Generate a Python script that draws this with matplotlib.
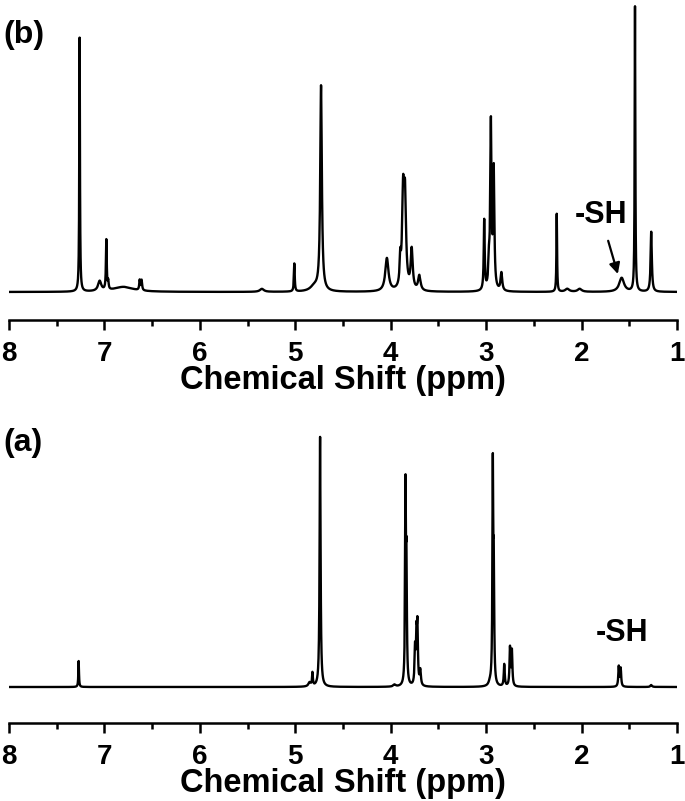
import numpy as np
import matplotlib
matplotlib.use("Agg")
import matplotlib.pyplot as plt

plt.rcParams['font.family'] = ['Liberation Sans', 'DejaVu Sans']
plt.rcParams['font.weight'] = 'bold'

# peak lists: shift (ppm), height (a.u.), width (ppm)
b_shift = [7.26, 7.05, 6.98, 6.96, 6.80, 6.63, 6.61, 5.35, 5.01, 4.80, 4.73,
           4.04, 3.90, 3.87, 3.85, 3.78, 3.70, 3.02, 2.97, 2.95, 2.92, 2.84,
           2.26, 2.15, 2.02, 1.58, 1.44, 1.27]
b_height = [254, 10, 50, 8, 5, 10, 10, 3, 28, 5, 205,
            33, 25, 90, 85, 40, 15, 70, 25, 165, 118, 18,
            78, 3, 3, 14, 285, 60]
b_width = [0.008, 0.04, 0.010, 0.010, 0.25, 0.012, 0.012, 0.05, 0.010, 0.10, 0.020,
           0.040, 0.015, 0.025, 0.025, 0.025, 0.030, 0.012, 0.015, 0.015, 0.015, 0.020,
           0.008, 0.05, 0.05, 0.06, 0.008, 0.015]

a_shift = [7.27, 4.85, 4.82, 4.74, 3.96, 3.845, 3.835, 3.745, 3.73, 3.72, 3.69,
           2.96, 2.93, 2.92, 2.81, 2.75, 2.73, 1.61, 1.59, 1.27]
a_height = [26, 4, 13, 250, 2, 190, 110, 35, 45, 55, 15,
            3, 212, 105, 22, 38, 35, 20, 18, 2]
a_width = [0.008, 0.03, 0.010, 0.012, 0.03, 0.010, 0.010, 0.012, 0.012, 0.012, 0.015,
           0.03, 0.010, 0.010, 0.012, 0.012, 0.012, 0.012, 0.012, 0.02]

ticks = [8, 7, 6, 5, 4, 3, 2, 1]


def spectrum(ppm, shift, height, width):
    y = np.zeros_like(ppm)
    for s, h, w in zip(shift, height, width):
        y += h / (1 + ((ppm - s) / (w / 2)) ** 2)
    return y


def style_axis(ax):
    ax.set_xlim(8, 1)
    for side in ['top', 'left', 'right']:
        ax.spines[side].set_visible(False)
    ax.spines['bottom'].set_linewidth(1.8)
    ax.set_yticks([])
    ax.set_xticks(ticks)
    ax.set_xticks(np.arange(1.5, 8, 1.0), minor=True)
    ax.tick_params(axis='x', which='major', direction='out', length=7, width=1.8,
                   labelsize=20, pad=8)
    ax.tick_params(axis='x', which='minor', direction='out', length=4, width=1.8)
    ax.set_xticklabels([str(t) for t in ticks], fontweight='bold')
    ax.set_xlabel('Chemical Shift (ppm)', fontsize=23.5, fontweight='bold', labelpad=-1)
    ax.patch.set_visible(False)


ppm = np.linspace(1, 8, 20000)

fig = plt.figure(figsize=(6.85, 8.01), dpi=100)
ax_b = fig.add_axes([9 / 685, 1 - 320 / 801, 668 / 685, 320 / 801])
ax_a = fig.add_axes([9 / 685, 1 - 723 / 801, 668 / 685, 323 / 801])

ax_b.plot(ppm, spectrum(ppm, b_shift, b_height, b_width), color='black', lw=1.7)
ax_a.plot(ppm, spectrum(ppm, a_shift, a_height, a_width), color='black', lw=1.7)

ax_b.set_ylim(-28, 292)
ax_a.set_ylim(-36, 287)
style_axis(ax_b)
style_axis(ax_a)

ax_b.annotate('-SH', xy=(1.62, 18), xytext=(1.80, 77), ha='center', va='center',
              fontsize=22, fontweight='bold',
              arrowprops=dict(arrowstyle='-|>', color='black', lw=1.6,
                              shrinkA=6, shrinkB=0, mutation_scale=16))
ax_a.text(1.58, 54, '-SH', ha='center', va='center', fontsize=22, fontweight='bold')

fig.text(3 / 685, 1 - 20 / 801, '(b)', fontsize=23, fontweight='bold', va='top')
fig.text(3 / 685, 1 - 428 / 801, '(a)', fontsize=23, fontweight='bold', va='top')

fig.savefig('out.png', dpi=100)
